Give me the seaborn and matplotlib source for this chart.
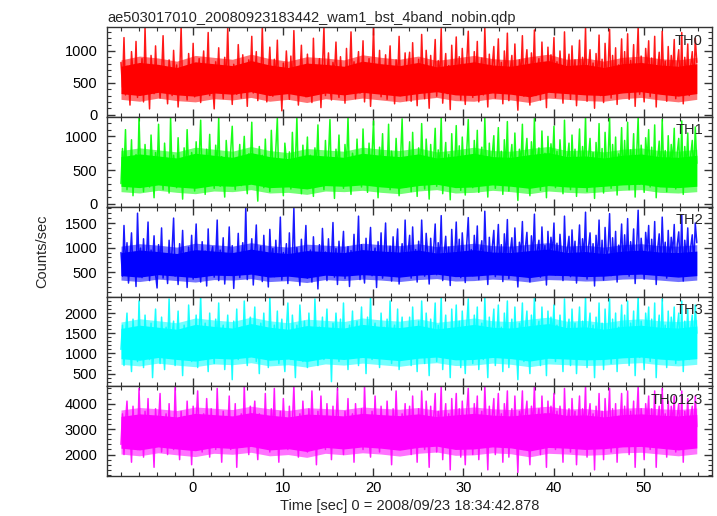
import numpy as np
import pandas as pd
import matplotlib
matplotlib.use("Agg")
import matplotlib.pyplot as plt
import seaborn as sns
from matplotlib.ticker import MultipleLocator

# Light curve samples (counts/sec), one list per band
time_start = -7.95
time_span = 64.0

th0 = [820, 430, 1210, 310, 760, 560, 150, 990, 640, 380, 1150, 270, 700, 520, 880, 200,
       1370, 450, 620, 90, 930, 560, 330, 1080, 480, 720, 260, 610, 1240, 390, 540, 170,
       860, 650, 300, 1010, 470, 780, 120, 590, 1380, 350, 690, 520, 230, 960, 610, 420,
       1120, 280, 740, 500, 880, 190, 640, 1000, 370, 560, 1290, 300, 710, 460, 90, 830,
       540, 1050, 360, 620, 250, 900, 480, 1370, 410, 680, 160, 790, 550, 320, 1100, 600,
       260, 940, 470, 700, 130, 860, 580, 1230, 340, 520, 990, 220, 660, 450, 1380, 380,
       750, 200, 610, 1060, 480, 290, 870, 530, 1170, 340, 640, 60, 810, 470, 1000, 560,
       240, 920, 390, 1320, 500, 700, 150, 580, 1090, 420, 770, 280, 950, 520, 610, 190,
       1200, 360, 680, 490, 880, 110, 740, 1370, 300, 560, 970, 410, 230, 820, 620, 1140,
       450, 270, 910, 530, 700, 180, 1040, 390, 600, 1300, 470, 830, 250, 650, 990, 340,
       560, 1160, 200, 720, 430, 880, 130, 600, 1370, 380, 690, 510, 1010, 280, 770, 460,
       940, 240, 620, 1080, 350, 700, 170, 860, 520, 1230, 300, 590, 410, 970, 220, 750,
       980, 210, 1130, 450, 690, 140, 870, 360, 1260, 540, 250, 1010, 620, 100, 930, 410,
       710, 1180, 290, 850, 520, 1350, 180, 640, 960, 330, 770, 80, 1090, 470, 600, 1220,
       350, 910, 230, 1040, 560, 160, 840, 1310, 400, 730, 270, 990, 510, 1150, 200, 680,
       890, 310, 1370, 570, 120, 950, 440, 780, 1070, 260, 620, 1190, 380, 820, 170, 1000,
       530, 1280, 220, 700, 930, 340, 1110, 480, 70, 860, 610, 1240, 290, 760, 1020, 410,
       150, 970, 550, 1330, 300, 690, 880, 230, 1140, 500, 790, 110, 1060, 430, 940, 650,
       1210, 270, 830, 370, 1000, 590, 180, 1300, 460, 720, 950, 240, 1080, 520, 860, 140,
       620, 1170, 330, 900, 560, 1360, 210, 740, 1020, 390, 810, 100, 960, 480, 1250, 300,
       870, 190, 1120, 580, 700, 1340, 260, 930, 450, 1050, 160, 780, 610, 1190, 350, 990,
       420, 1270, 240, 850, 540, 1100, 130, 760, 1380, 320, 920, 570, 200, 1040, 680, 1160,
       280, 890, 470, 1230, 120, 710, 980, 360, 1310, 540, 840, 210, 1070, 430, 930, 650,
       1180, 250, 800, 1020, 380, 1290, 170, 900, 560, 1110, 300, 770, 990, 440, 1200, 820]

th1 = [300, 820, 450, 1100, 210, 640, 380, 950, 120, 560, 730, 290, 1280, 470, 620, 180,
       880, 400, 700, 250, 1020, 520, 90, 760, 430, 1180, 330, 600, 210, 900, 480, 650,
       160, 1280, 390, 720, 540, 240, 980, 450, 610, 70, 830, 370, 1100, 500, 280, 760,
       560, 190, 920, 420, 680, 1240, 300, 590, 140, 810, 470, 1030, 350, 640, 230, 870,
       510, 1280, 260, 700, 420, 100, 940, 580, 330, 790, 1150, 460, 210, 660, 520, 880,
       270, 610, 1000, 390, 150, 740, 560, 1210, 310, 680, 450, 40, 850, 500, 720, 240,
       960, 410, 630, 180, 1090, 530, 360, 800, 1270, 290, 580, 460, 120, 900, 650, 340,
       770, 220, 1060, 480, 600, 1280, 310, 690, 150, 870, 430, 540, 990, 260, 720, 400,
       110, 830, 560, 1170, 330, 640, 470, 210, 940, 380, 700, 1250, 290, 600, 80, 810,
       490, 1020, 360, 670, 230, 880, 520, 1280, 410, 140, 750, 590, 300, 960, 440, 680,
       250, 1110, 470, 620, 170, 900, 380, 730, 1230, 320, 560, 90, 840, 500, 1040, 290,
       650, 430, 1180, 210, 780, 550, 340, 970, 460, 120, 700, 1260, 380, 610, 250, 520,
       920, 180, 1060, 430, 650, 110, 830, 330, 1190, 500, 220, 960, 580, 70, 880, 380,
       670, 1120, 260, 800, 480, 1280, 150, 600, 910, 300, 730, 60, 1040, 440, 560, 1160,
       320, 860, 200, 990, 520, 130, 790, 1250, 370, 690, 240, 940, 470, 1090, 170, 640,
       840, 280, 1280, 530, 100, 900, 410, 740, 1010, 230, 580, 1130, 350, 780, 140, 950,
       490, 1220, 190, 660, 880, 310, 1050, 450, 50, 810, 570, 1180, 260, 720, 970, 380,
       120, 920, 510, 1270, 270, 650, 830, 200, 1080, 460, 750, 90, 1000, 400, 890, 610,
       1150, 240, 780, 340, 950, 550, 150, 1240, 430, 680, 900, 210, 1020, 490, 810, 110,
       580, 1110, 300, 850, 520, 1290, 180, 700, 970, 360, 760, 80, 910, 450, 1190, 270,
       820, 160, 1060, 540, 660, 1270, 230, 880, 420, 990, 130, 740, 570, 1130, 320, 940,
       390, 1210, 210, 800, 500, 1040, 100, 720, 1280, 290, 870, 530, 170, 980, 640, 1100,
       250, 840, 440, 1170, 90, 670, 930, 330, 1250, 500, 790, 180, 1010, 400, 880, 610,
       1120, 220, 760, 970, 350, 1230, 140, 850, 520, 1050, 270, 730, 940, 410, 1140, 600]

th2 = [900, 420, 1450, 600, 1100, 280, 760, 1300, 520, 870, 210, 1700, 640, 990, 390, 1180,
       560, 820, 1520, 330, 950, 700, 1240, 460, 180, 1060, 610, 1400, 380, 840, 720, 270,
       1150, 530, 960, 1600, 420, 780, 250, 1080, 650, 1350, 470, 890, 190, 1010, 580, 1250,
       360, 820, 1480, 540, 700, 300, 1120, 620, 930, 220, 1380, 480, 860, 1020, 400, 760,
       1560, 330, 950, 580, 1200, 260, 820, 690, 1420, 450, 1040, 170, 880, 600, 1290, 390,
       740, 1100, 500, 1820, 350, 920, 630, 1180, 240, 850, 1460, 470, 700, 1030, 310, 1250,
       560, 890, 200, 1370, 660, 980, 410, 1150, 530, 780, 1620, 340, 900, 600, 1080, 270,
       1300, 480, 760, 1800, 420, 1000, 620, 230, 1170, 510, 870, 1450, 380, 700, 950, 300,
       1220, 590, 830, 160, 1060, 450, 1390, 680, 910, 330, 1180, 550, 760, 1510, 400, 980,
       250, 1130, 640, 860, 1330, 370, 720, 1020, 210, 940, 580, 1270, 460, 800, 1640, 350,
       1060, 620, 280, 1190, 500, 880, 1410, 430, 760, 990, 190, 1120, 560, 1300, 380, 840,
       1500, 470, 700, 1030, 320, 1220, 590, 910, 1380, 260, 780, 1080, 440, 1560, 610, 900,
       1250, 380, 1420, 640, 960, 300, 1130, 560, 1560, 750, 420, 1290, 850, 260, 1190, 600,
       980, 1480, 450, 1100, 720, 1650, 330, 880, 1230, 510, 1010, 230, 1370, 660, 820, 1520,
       540, 1170, 390, 1300, 780, 290, 1080, 1610, 590, 960, 430, 1250, 700, 1440, 350, 910,
       1140, 480, 1740, 770, 250, 1210, 630, 1020, 1350, 410, 860, 1470, 560, 1060, 310, 1280,
       740, 1570, 370, 930, 1200, 520, 1400, 680, 200, 1110, 850, 1530, 460, 1000, 1310, 600,
       300, 1240, 790, 1680, 470, 950, 1150, 400, 1420, 700, 1040, 240, 1330, 640, 1210, 880,
       1500, 440, 1090, 560, 1270, 820, 330, 1640, 660, 980, 1230, 410, 1360, 730, 1130, 280,
       870, 1460, 520, 1180, 800, 1720, 360, 1010, 1300, 590, 1080, 220, 1250, 700, 1560, 480,
       1150, 340, 1410, 790, 960, 1690, 430, 1200, 650, 1330, 300, 1050, 870, 1480, 550, 1260,
       640, 1590, 420, 1120, 760, 1380, 270, 1000, 1760, 510, 1190, 830, 360, 1310, 930, 1450,
       470, 1170, 690, 1530, 250, 980, 1280, 560, 1620, 770, 1110, 380, 1350, 650, 1210, 890,
       1470, 430, 1070, 1320, 570, 1660, 320, 1150, 800, 1400, 490, 1020, 1260, 640, 1500, 1100]

th3 = [1100, 1700, 700, 1450, 2000, 900, 1300, 550, 1850, 1150, 1600, 800, 2300, 1050, 1400, 650,
       1950, 1200, 1550, 850, 1750, 400, 1350, 2100, 1000, 1500, 750, 1900, 1250, 600, 1650, 1100,
       2350, 950, 1450, 1800, 700, 1300, 2050, 1000, 1550, 450, 1700, 1200, 900, 2200, 1350, 800,
       1600, 1050, 1950, 650, 1400, 2400, 1150, 850, 1750, 1300, 550, 2000, 1050, 1500, 750, 1850,
       1250, 2250, 900, 1450, 1700, 600, 1300, 1950, 1000, 1550, 350, 1800, 1150, 2100, 850, 1400,
       1650, 1000, 2300, 1250, 700, 1500, 1900, 950, 1350, 2150, 800, 1600, 500, 1750, 1200, 2000,
       1100, 1450, 650, 2400, 1300, 900, 1700, 1150, 2050, 750, 1400, 1850, 1000, 550, 1600, 2250,
       1200, 850, 1950, 1350, 400, 1700, 1050, 2200, 1500, 800, 1800, 1250, 650, 2000, 1100, 1550,
       950, 2350, 1300, 700, 1650, 1150, 1900, 850, 1450, 2100, 1000, 1600, 300, 1750, 1250, 2000,
       1400, 800, 1850, 1100, 2250, 950, 1500, 600, 1700, 1300, 2050, 900, 1450, 1800, 700, 1350,
       2150, 1050, 1600, 500, 1900, 1200, 2400, 850, 1400, 1750, 1000, 1550, 650, 2000, 1250, 1650,
       900, 1850, 1150, 2300, 750, 1450, 1700, 1050, 2100, 600, 1350, 1900, 1000, 1600, 1250, 1050,
       1900, 700, 2150, 1100, 1500, 550, 1800, 950, 2300, 1250, 750, 2000, 1400, 450, 1850, 1050,
       1550, 2250, 800, 1700, 1200, 2400, 600, 1450, 1950, 900, 1600, 400, 2100, 1150, 1350, 2200,
       950, 1800, 650, 2050, 1300, 500, 1700, 2350, 1000, 1550, 750, 1950, 1200, 2150, 600, 1450,
       1750, 850, 2400, 1250, 400, 1900, 1100, 1600, 2100, 700, 1400, 2200, 1000, 1650, 550, 2000,
       1300, 2300, 650, 1500, 1850, 900, 2150, 1150, 350, 1750, 1400, 2250, 800, 1600, 2050, 1050,
       500, 1950, 1300, 2400, 850, 1500, 1800, 700, 2150, 1200, 1650, 450, 2050, 1100, 1900, 1450,
       2200, 800, 1700, 1000, 1950, 1350, 550, 2350, 1150, 1550, 1850, 700, 2100, 1250, 1750, 500,
       1400, 2150, 900, 1800, 1300, 2400, 650, 1600, 2000, 1000, 1700, 400, 1900, 1150, 2250, 850,
       1750, 600, 2100, 1300, 1500, 2350, 750, 1850, 1100, 2000, 550, 1650, 1400, 2200, 950, 1950,
       1050, 2300, 700, 1750, 1250, 2050, 450, 1550, 2400, 900, 1800, 1350, 600, 2000, 1500, 2150,
       800, 1850, 1150, 2250, 400, 1500, 1950, 950, 2350, 1250, 1700, 650, 2050, 1100, 1900, 1450,
       2150, 750, 1650, 2000, 1000, 2300, 550, 1800, 1300, 2100, 850, 1600, 1950, 1100, 2200, 1500]

th0123 = [2400, 3600, 2000, 3300, 4100, 2600, 3000, 1700, 3900, 2500, 3400, 2200, 4600, 2800, 3200, 1900,
          3700, 2700, 4200, 2300, 3500, 2900, 1500, 3800, 2600, 3300, 4400, 2100, 3100, 2700, 3600, 2000,
          4000, 2500, 3400, 2200, 4700, 2900, 3100, 1800, 3700, 2600, 3500, 2300, 4100, 2800, 3200, 1600,
          3900, 2400, 3300, 4500, 2700, 3000, 2100, 3600, 2500, 4200, 2900, 1900, 3800, 2600, 3400, 2200,
          4600, 2800, 3100, 1700, 3700, 2400, 3500, 2900, 4300, 2200, 3200, 2600, 4000, 1500, 3300, 2700,
          3600, 2300, 4700, 2800, 3000, 2000, 3900, 2500, 3400, 4100, 2700, 1800, 3600, 2900, 3200, 2400,
          4400, 2600, 3300, 2100, 3800, 2800, 4600, 2300, 3100, 1700, 3700, 2600, 4200, 2900, 3400, 2200,
          3900, 2500, 3200, 4700, 2700, 3000, 1900, 3600, 2400, 4100, 2800, 3300, 2100, 3800, 2600, 4500,
          2900, 3400, 1600, 3700, 2500, 4300, 2800, 3100, 2200, 4000, 2700, 3500, 1800, 3900, 2600, 3200,
          4600, 2400, 3300, 2900, 2000, 3700, 2700, 4200, 2300, 3100, 3600, 1700, 4000, 2800, 3400, 2500,
          3800, 2200, 4700, 2900, 3200, 2600, 1900, 3700, 2500, 4300, 2800, 3100, 2100, 3900, 2700, 3500,
          2400, 4100, 2900, 3300, 1600, 3800, 2600, 4500, 2800, 3200, 2200, 3600, 2700, 4000, 2500, 2900,
          3900, 2000, 4300, 2700, 3300, 1700, 3800, 2400, 4500, 3000, 2200, 4100, 3200, 1500, 3900, 2600,
          3400, 4400, 2100, 3700, 2900, 4700, 1800, 3300, 4000, 2300, 3600, 1400, 4200, 2800, 3100, 4400,
          2400, 3800, 1900, 4100, 3000, 1600, 3700, 4600, 2500, 3400, 2000, 4000, 2900, 4300, 1800, 3300,
          3700, 2300, 4700, 3000, 1400, 3900, 2700, 3500, 4200, 2000, 3200, 4400, 2500, 3600, 1700, 4000,
          3100, 4500, 1900, 3300, 3800, 2400, 4300, 2800, 1300, 3700, 3200, 4500, 2200, 3500, 4100, 2600,
          1600, 3900, 3100, 4700, 2300, 3300, 3800, 2000, 4300, 2900, 3600, 1500, 4100, 2700, 3900, 3200,
          4400, 2200, 3700, 2500, 3900, 3100, 1700, 4600, 2800, 3400, 3800, 2100, 4200, 3000, 3700, 1600,
          3200, 4300, 2400, 3800, 3000, 4700, 1900, 3500, 4000, 2500, 3600, 1400, 3900, 2800, 4400, 2300,
          3700, 1800, 4200, 3100, 3300, 4600, 2100, 3800, 2700, 4000, 1700, 3500, 3200, 4400, 2400, 3900,
          2600, 4500, 2000, 3700, 3000, 4100, 1500, 3400, 4700, 2400, 3800, 3100, 1800, 4000, 3300, 4300,
          2200, 3800, 2800, 4500, 1500, 3300, 3900, 2400, 4600, 3000, 3600, 1900, 4100, 2700, 3900, 3200,
          4300, 2100, 3500, 4000, 2500, 4500, 1700, 3700, 3000, 4200, 2300, 3500, 3900, 2700, 4300, 3100]

# Solid core of each band (lower / upper edge, one value per 2 s)
th0_lo = [330, 300, 350, 310, 290, 340, 320, 360, 300, 330, 280, 340, 310, 350, 320, 290,
          330, 360, 310, 300, 340, 320, 280, 350, 330, 310, 300, 340, 360, 320, 290, 330]
th0_hi = [760, 820, 790, 740, 830, 800, 770, 850, 780, 740, 810, 790, 760, 840, 800, 770,
          820, 750, 790, 830, 780, 760, 810, 850, 770, 790, 740, 800, 820, 780, 760, 800]
th1_lo = [260, 240, 280, 250, 230, 270, 260, 290, 240, 250, 220, 270, 260, 280, 250, 230,
          270, 290, 240, 250, 280, 260, 230, 270, 250, 240, 260, 280, 290, 250, 240, 260]
th1_hi = [700, 740, 710, 680, 750, 720, 690, 760, 700, 670, 730, 710, 690, 750, 720, 700,
          740, 680, 710, 750, 700, 690, 730, 760, 700, 710, 680, 720, 740, 700, 690, 720]
th2_lo = [430, 400, 450, 420, 390, 440, 430, 460, 400, 420, 380, 440, 420, 450, 430, 400,
          440, 460, 410, 420, 450, 430, 390, 440, 430, 410, 420, 450, 460, 430, 400, 430]
th2_hi = [900, 950, 920, 880, 960, 930, 900, 970, 910, 880, 940, 920, 900, 960, 930, 910,
          950, 890, 920, 960, 910, 900, 940, 970, 900, 920, 880, 930, 950, 910, 900, 930]
th3_lo = [870, 830, 900, 850, 810, 880, 860, 910, 830, 860, 800, 880, 850, 900, 860, 820,
          880, 910, 840, 850, 900, 870, 810, 880, 860, 840, 850, 890, 910, 860, 830, 870]
th3_hi = [1620, 1700, 1650, 1600, 1720, 1670, 1630, 1740, 1650, 1600, 1690, 1660, 1630, 1720, 1670, 1640,
          1700, 1610, 1660, 1720, 1650, 1630, 1690, 1740, 1640, 1660, 1600, 1670, 1700, 1650, 1630, 1680]
th0123_lo = [2250, 2180, 2300, 2220, 2150, 2280, 2240, 2320, 2180, 2230, 2120, 2280, 2220, 2300, 2250, 2170,
             2280, 2330, 2200, 2220, 2300, 2260, 2140, 2280, 2250, 2200, 2230, 2300, 2320, 2250, 2180, 2260]
th0123_hi = [3500, 3600, 3550, 3480, 3620, 3570, 3520, 3650, 3550, 3480, 3590, 3560, 3520, 3620, 3570, 3530,
             3600, 3490, 3560, 3620, 3550, 3520, 3590, 3650, 3540, 3560, 3480, 3570, 3600, 3550, 3520, 3580]

# Lighter, denser fringe around the core (lower / upper edge, one value per 2 s)
th0_flo = [240, 210, 260, 220, 200, 250, 230, 270, 210, 240, 190, 250, 220, 260, 230, 200,
           240, 270, 220, 210, 250, 230, 190, 260, 240, 220, 210, 250, 270, 230, 200, 240]
th0_fhi = [860, 920, 890, 840, 930, 900, 870, 950, 880, 840, 910, 890, 860, 940, 900, 870,
           920, 850, 890, 930, 880, 860, 910, 950, 870, 890, 840, 900, 920, 880, 860, 900]
th1_flo = [180, 160, 200, 170, 150, 190, 180, 210, 160, 170, 140, 190, 180, 200, 170, 150,
           190, 210, 160, 170, 200, 180, 150, 190, 170, 160, 180, 200, 210, 170, 160, 180]
th1_fhi = [790, 830, 800, 770, 840, 810, 780, 850, 790, 760, 820, 800, 780, 840, 810, 790,
           830, 770, 800, 840, 790, 780, 820, 850, 790, 800, 770, 810, 830, 790, 780, 810]
th2_flo = [340, 310, 360, 330, 300, 350, 340, 370, 310, 330, 290, 350, 330, 360, 340, 310,
           350, 370, 320, 330, 360, 340, 300, 350, 340, 320, 330, 360, 370, 340, 310, 340]
th2_fhi = [1030, 1080, 1050, 1010, 1090, 1060, 1030, 1100, 1040, 1010, 1070, 1050, 1030, 1090, 1060, 1040,
           1080, 1020, 1050, 1090, 1040, 1030, 1070, 1100, 1030, 1050, 1010, 1060, 1080, 1040, 1030, 1060]
th3_flo = [730, 690, 760, 710, 670, 740, 720, 770, 690, 720, 660, 740, 710, 760, 720, 680,
           740, 770, 700, 710, 760, 730, 670, 740, 720, 700, 710, 750, 770, 720, 690, 730]
th3_fhi = [1780, 1860, 1810, 1760, 1880, 1830, 1790, 1900, 1810, 1760, 1850, 1820, 1790, 1880, 1830, 1800,
           1860, 1770, 1820, 1880, 1810, 1790, 1850, 1900, 1800, 1820, 1760, 1830, 1860, 1810, 1790, 1840]
th0123_flo = [2020, 1950, 2070, 1990, 1920, 2050, 2010, 2090, 1950, 2000, 1890, 2050, 1990, 2070, 2020, 1940,
              2050, 2100, 1970, 1990, 2070, 2030, 1910, 2050, 2020, 1970, 2000, 2070, 2090, 2020, 1950, 2030]
th0123_fhi = [3750, 3850, 3800, 3730, 3870, 3820, 3770, 3900, 3800, 3730, 3840, 3810, 3770, 3870, 3820, 3780,
              3850, 3740, 3810, 3870, 3800, 3770, 3840, 3900, 3790, 3810, 3730, 3820, 3850, 3800, 3770, 3830]

bands = ["TH0", "TH1", "TH2", "TH3", "TH0123"]
series = [th0, th1, th2, th3, th0123]
core_lo = [th0_lo, th1_lo, th2_lo, th3_lo, th0123_lo]
core_hi = [th0_hi, th1_hi, th2_hi, th3_hi, th0123_hi]
fringe_lo = [th0_flo, th1_flo, th2_flo, th3_flo, th0123_flo]
fringe_hi = [th0_fhi, th1_fhi, th2_fhi, th3_fhi, th0123_fhi]
colors = ["#ff0000", "#00ff00", "#0000ff", "#00ffff", "#ff00ff"]
ylims = [(-38, 1372), (-44, 1287), (6, 1830), (186, 2411), (1158, 4684)]
yticks = [[0, 500, 1000], [0, 500, 1000], [500, 1000, 1500],
          [500, 1000, 1500, 2000], [2000, 3000, 4000]]
yminor = [100, 100, 100, 100, 200]

sns.set_style("ticks")
plt.rcParams["font.family"] = ["Liberation Sans", "DejaVu Sans"]
plt.rcParams["font.size"] = 10.5

W, H = 717, 516
fig, axes = plt.subplots(5, 1, sharex=True, figsize=(W / 100, H / 100), dpi=100)
fig.subplots_adjust(left=107 / W, right=712 / W, top=1 - 27.3 / H,
                    bottom=1 - 476 / H, hspace=0)

for i, ax in enumerate(axes):
    vals = series[i]
    dt = time_span / len(vals)
    df = pd.DataFrame({"time": time_start + dt * np.arange(len(vals)), "rate": vals})

    # lighter dense fringe, then the solid core of the band
    ct = np.linspace(time_start, df["time"].iloc[-1], len(core_lo[i]))
    ax.fill_between(ct, fringe_lo[i], fringe_hi[i], color=colors[i], alpha=0.55,
                    linewidth=0)
    ax.fill_between(ct, core_lo[i], core_hi[i], color=colors[i], linewidth=0)

    sns.lineplot(data=df, x="time", y="rate", ax=ax, color=colors[i],
                 linewidth=1.1, alpha=0.9, estimator=None, sort=False)
    ax.set_ylim(*ylims[i])
    ax.set_yticks(yticks[i])
    ax.yaxis.set_minor_locator(MultipleLocator(yminor[i]))
    ax.xaxis.set_major_locator(MultipleLocator(10))
    ax.xaxis.set_minor_locator(MultipleLocator(2))
    ax.tick_params(which="both", direction="in", top=True, right=True,
                   colors="#333333", labelcolor="black", labelsize=10.5)
    ax.tick_params(which="major", length=6, width=1)
    ax.tick_params(which="minor", length=3, width=0.8)
    ax.tick_params(axis="y", pad=7)
    for s in ax.spines.values():
        s.set_linewidth(1.0)
        s.set_color("#333333")
    ax.set_ylabel("")
    ax.set_xlabel("")
    ax.text(0.985, 0.93, bands[i], transform=ax.transAxes, ha="right", va="top",
            fontsize=10.5)

axes[-1].set_xlim(-9.5, 57.57)
axes[-1].set_xticks([0, 10, 20, 30, 40, 50])
axes[-1].set_xlabel("Time [sec] 0 = 2008/09/23 18:34:42.878", fontsize=10.5, labelpad=3)
axes[0].set_title("ae503017010_20080923183442_wam1_bst_4band_nobin.qdp",
                  loc="left", fontsize=10.5, pad=4)
fig.text(42 / W, 1 - 251 / H, "Counts/sec", rotation=90, ha="center", va="center",
         fontsize=10.5)

fig.savefig("out.png", dpi=100)
